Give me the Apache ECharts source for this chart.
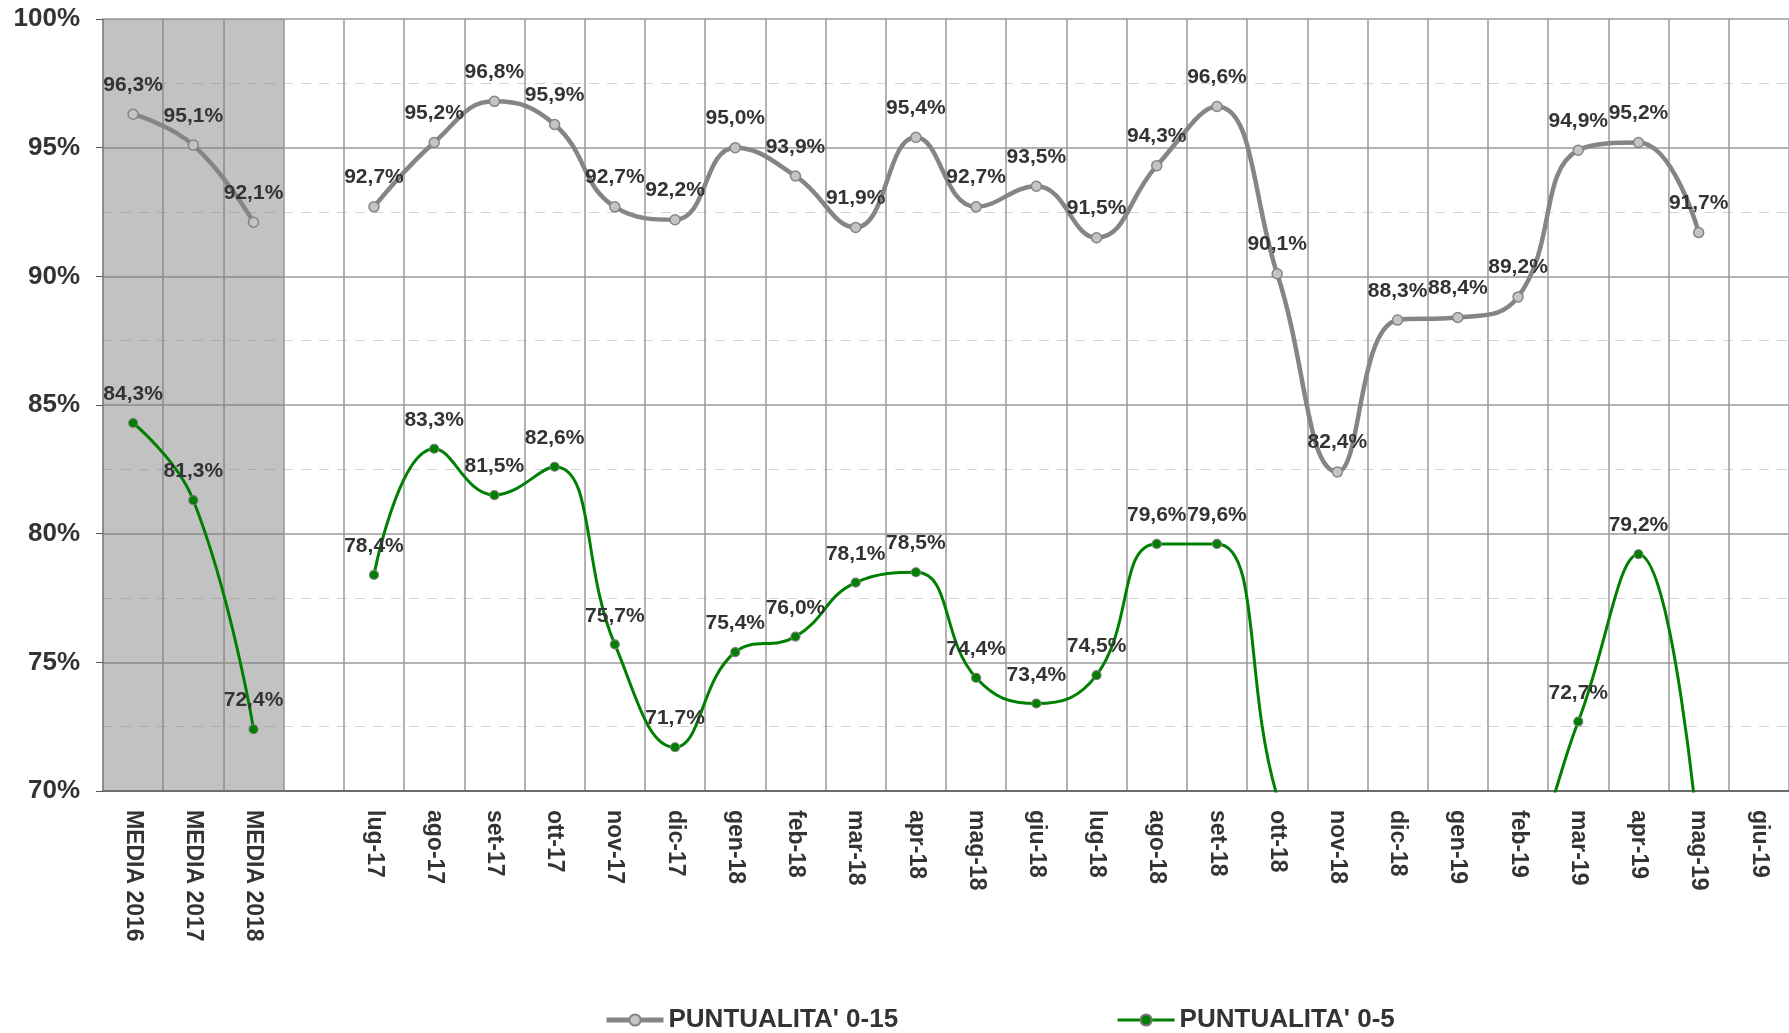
<!DOCTYPE html>
<html>
<head>
<meta charset="utf-8">
<script src="https://cdn.jsdelivr.net/npm/echarts@6/dist/echarts.min.js"></script>
<style>
  html, body { margin: 0; padding: 0; background: #fff; }
  #chart { width: 1789px; height: 1033px; }
</style>
</head>
<body>
<div id="chart"></div>
<script>
const categories = [
  'MEDIA 2016', 'MEDIA 2017', 'MEDIA 2018', '',
  'lug-17', 'ago-17', 'set-17', 'ott-17', 'nov-17', 'dic-17',
  'gen-18', 'feb-18', 'mar-18', 'apr-18', 'mag-18', 'giu-18',
  'lug-18', 'ago-18', 'set-18', 'ott-18', 'nov-18', 'dic-18',
  'gen-19', 'feb-19', 'mar-19', 'apr-19', 'mag-19', 'giu-19',
];
// PUNTUALITA' 0-15
const punt015 = [
  96.3, 95.1, 92.1, null,
  92.7, 95.2, 96.8, 95.9, 92.7, 92.2,
  95.0, 93.9, 91.9, 95.4, 92.7, 93.5,
  91.5, 94.3, 96.6, 90.1, 82.4, 88.3,
  88.4, 89.2, 94.9, 95.2, 91.7, null,
];
// PUNTUALITA' 0-5 (values under 70% fall below the axis and are not visible)
const punt05 = [
  84.3, 81.3, 72.4, null,
  78.4, 83.3, 81.5, 82.6, 75.7, 71.7,
  75.4, 76.0, 78.1, 78.5, 74.4, 73.4,
  74.5, 79.6, 79.6, 69.8, 64.0, 66.0,
  66.0, 67.0, 72.7, 79.2, 68.0, null,
];
// grey band behind the yearly averages
const mediaBand = [100, 100, 100];
const yTicks = { min: 70, max: 100, step: 5 };

const font = '"Liberation Sans", Arial, sans-serif';
const textColor = '#333333';

function pct(params) {
  const v = Array.isArray(params.value) ? params.value[1] : params.value;
  if (v == null || v < yTicks.min) return '';
  return v.toFixed(1).replace('.', ',') + '%';
}

const chart = echarts.init(document.getElementById('chart'), null, { renderer: 'canvas' });

chart.setOption({
  backgroundColor: '#ffffff',
  animation: false,
  grid: { left: 103, right: -4, top: 19, bottom: 242 },
  legend: {
    data: [
      { name: "PUNTUALITA' 0-15", lineStyle: { width: 5 } },
      { name: "PUNTUALITA' 0-5", lineStyle: { width: 3 } },
    ],
    left: 599,
    top: 1002,
    itemWidth: 57,
    itemHeight: 14,
    itemGap: 218,
    textStyle: { fontFamily: font, fontSize: 26, fontWeight: 'bold', color: textColor },
  },
  xAxis: {
    type: 'category',
    data: categories,
    boundaryGap: true,
    axisLine: { lineStyle: { color: '#555555', width: 1.5 } },
    axisTick: { interval: 0, length: 8, lineStyle: { color: '#555555' } },
    axisLabel: {
      interval: 0,
      rotate: -90,
      margin: 19,
      fontFamily: font,
      fontSize: 23,
      fontWeight: 'bold',
      color: textColor,
    },
    splitLine: { show: true, interval: 0, lineStyle: { color: '#9a9a9a', width: 1.5 } },
  },
  yAxis: {
    type: 'value',
    min: yTicks.min,
    max: yTicks.max,
    interval: yTicks.step,
    axisLine: { show: true, lineStyle: { color: '#8a8a8a', width: 1.5 } },
    axisTick: { show: true, length: 7, lineStyle: { color: '#555555' } },
    axisLabel: {
      formatter: '{value}%',
      margin: 23,
      fontFamily: font,
      fontSize: 26,
      fontWeight: 'bold',
      color: textColor,
    },
    splitLine: { lineStyle: { color: '#9a9a9a', width: 1.5 } },
    minorTick: { show: false, splitNumber: 2 },
    minorSplitLine: { show: true, lineStyle: { color: '#d4d4d4', type: [10, 8], width: 1 } },
  },
  series: [
    {
      name: 'media',
      type: 'bar',
      data: mediaBand,
      barWidth: '100%',
      barCategoryGap: 0,
      silent: true,
      z: 1,
      itemStyle: { color: 'rgba(120,120,120,0.45)' },
    },
    {
      name: "PUNTUALITA' 0-15",
      type: 'line',
      data: punt015,
      smooth: 0.45,
      z: 3,
      symbol: 'circle',
      symbolSize: 10,
      showAllSymbol: true,
      lineStyle: { color: '#858585', width: 4.5 },
      itemStyle: { color: '#c4c4c4', borderColor: '#858585', borderWidth: 1.5 },
      label: {
        show: true,
        position: 'top',
        distance: 13,
        formatter: pct,
        fontFamily: font,
        fontSize: 21,
        fontWeight: 'bold',
        color: textColor,
      },
    },
    {
      name: "PUNTUALITA' 0-5",
      type: 'line',
      data: punt05,
      smooth: 0.45,
      z: 4,
      symbol: 'circle',
      symbolSize: 9,
      showAllSymbol: true,
      clip: true,
      lineStyle: { color: '#008000', width: 3 },
      itemStyle: { color: '#008000', borderColor: '#7a7a7a', borderWidth: 1.2 },
      label: {
        show: true,
        position: 'top',
        distance: 13,
        formatter: pct,
        fontFamily: font,
        fontSize: 21,
        fontWeight: 'bold',
        color: textColor,
      },
    },
  ],
});
</script>
</body>
</html>
